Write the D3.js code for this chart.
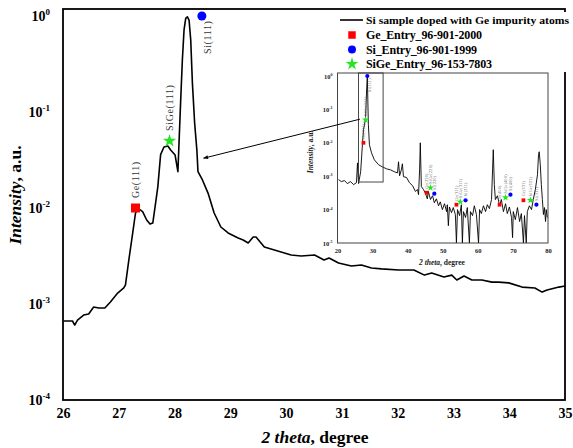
<!DOCTYPE html>
<html><head><meta charset="utf-8">
<script src="https://cdn.jsdelivr.net/npm/d3@7"></script>
<style>
body{margin:0;background:#fff}
svg{display:block;font-family:"Liberation Serif","Times New Roman",serif}
</style>
</head><body>
<svg id="c" width="573" height="448"></svg>
<script>
// ---------- DATA ----------
const mainTheta = [26.01,26.17,26.21,26.26,26.37,26.46,26.55,26.64,26.75,26.85,26.98,27.09,27.12,27.18,27.25,27.30,27.34,27.39,27.43,27.50,27.56,27.61,27.65,27.70,27.75,27.81,27.88,27.93,28.01,28.06,28.08,28.11,28.14,28.17,28.20,28.23,28.26,28.29,28.32,28.36,28.40,28.42,28.50,28.60,28.71,28.83,28.96,29.14,29.23,29.32,29.41,29.46,29.61,29.79,29.91,30.09,30.27,30.51,30.68,30.77,30.94,31.17,31.35,31.53,31.71,32.02,32.29,32.48,32.61,32.83,32.97,33.06,33.19,33.33,33.51,33.69,33.81,33.99,34.23,34.46,34.59,34.68,34.89,35.00];
const mainIntensity = [6.65e-4,6.65e-4,6.04e-4,6.8e-4,7.67e-4,7.87e-4,9.3e-4,9.08e-4,9.08e-4,1.05e-3,1.30e-3,1.47e-3,1.58e-3,2.87e-3,5.5e-3,8.87e-3,9.77e-3,9.53e-3,9.1e-3,7.5e-3,6.8e-3,6.98e-3,0.0102,0.0166,0.036,0.0432,0.0443,0.0402,0.0356,0.0239,0.0475,0.133,0.348,0.715,0.946,0.98,0.908,0.562,0.200,0.0768,0.0402,0.0239,0.0196,0.0143,8.87e-3,6.34e-3,5.5e-3,4.87e-3,4.64e-3,4.32e-3,4.99e-3,4.99e-3,3.92e-3,3.65e-3,3.48e-3,3.24e-3,3.16e-3,3.24e-3,2.87e-3,3.01e-3,2.67e-3,2.49e-3,2.55e-3,2.37e-3,2.32e-3,2.26e-3,2.26e-3,2.0e-3,2.1e-3,1.91e-3,2.0e-3,1.78e-3,1.96e-3,1.78e-3,1.78e-3,1.69e-3,1.69e-3,1.66e-3,1.50e-3,1.47e-3,1.33e-3,1.40e-3,1.50e-3,1.54e-3];

const insetTheta = [20.3,21.1,22.0,22.8,23.7,24.6,25.4,25.7,26.0,26.6,27.1,27.4,27.7,28.0,28.3,28.5,28.8,29.1,29.7,30.5,31.7,32.8,34.0,35.1,36.2,37.1,37.4,37.7,38.2,38.5,38.8,39.7,40.5,41.4,42.2,42.8,43.1,43.4,43.6,43.9,44.5,45.1,45.6,45.9,46.5,47.1,47.6,48.2,48.8,49.3,49.9,50.5,51.1,51.3,51.6,51.9,52.5,53.0,53.6,53.9,54.2,54.8,55.3,55.6,55.9,56.5,57.0,57.6,57.9,58.5,59.0,59.6,60.2,60.5,61.0,61.6,62.2,62.7,63.3,63.9,64.2,64.4,64.7,65.0,65.6,66.2,66.7,67.3,67.9,68.4,69.0,69.6,69.9,70.1,70.7,71.3,71.9,72.4,73.0,73.3,73.8,74.1,74.7,75.3,75.8,76.4,77.0,77.3,77.5,77.8,78.1,78.4,78.7,79.0,79.3,79.5,79.8];
const insetIntensity = [7.9e-4,6.9e-4,7.4e-4,6.0e-4,6.9e-4,5.6e-4,6.4e-4,2.5e-3,6.0e-4,1.36e-3,8.7e-3,0.0245,0.0345,0.056,0.38,1.0,0.035,8.7e-3,5.0e-3,3.1e-3,2.2e-3,1.9e-3,1.66e-3,1.55e-3,1.36e-3,1.26e-3,2.7e-3,1.03e-3,1.55e-3,2.35e-3,9.7e-4,9.1e-4,6.4e-4,5.2e-4,3.5e-4,4.0e-4,2.8e-4,1.55e-3,0.01,4.9e-4,4.0e-4,3.0e-4,2.1e-4,3.5e-4,2.0e-4,2.6e-4,1.6e-4,2.1e-4,1.3e-4,1.7e-4,1.0e-4,1.5e-4,8.7e-5,1.4e-4,3.3e-5,1.2e-4,8.1e-5,1.15e-4,7.1e-5,1.0e-5,1.0e-4,6.6e-5,1.4e-4,1.0e-5,8.7e-5,5.8e-5,1.15e-4,1.0e-5,8.7e-5,6.6e-5,1.3e-4,7.1e-5,1.0e-5,1.0e-4,7.6e-5,1.3e-4,8.7e-5,1.4e-4,1.07e-4,2.0e-4,1.55e-3,6.2e-3,5.6e-4,2.0e-4,2.6e-4,1.3e-4,2.0e-4,8.7e-5,1.5e-4,7.6e-5,1.2e-4,5.8e-5,1.45e-5,8.7e-5,5.0e-5,1.15e-4,4.4e-5,7.6e-5,1.0e-5,6.6e-5,1.0e-5,8.7e-5,1.3e-4,1.0e-4,2.0e-4,4.0e-4,1.1e-3,4.4e-3,5.4e-3,2.2e-3,5.6e-4,2.0e-4,7.1e-5,1.15e-4,4.4e-5,1.0e-4,5.8e-5];

const xTicks = [26,27,28,29,30,31,32,33,34,35];
const yTicks = [1e-4,1e-3,1e-2,1e-1,1];
const insetXTicks = [20,30,40,50,60,70,80];
const insetYTicks = [1e-5,1e-4,1e-3,1e-2,1e-1,1];

// phases
const phaseNames = ["Ge_Entry_96-901-2000","Si_Entry_96-901-1999","SiGe_Entry_96-153-7803"];
const phaseShort = ["Ge","Si","SiGe"];
const phaseColors = ["#ff0000","#0000ff","#22e622"];
const phaseSymbols = [d3.symbolSquare,d3.symbolCircle,d3.symbolStar];
const seriesName = "Si sample doped with Ge impurity atoms";

// main peak markers (Ge, Si, SiGe)
const mainPeakTheta = [27.30,28.49,27.91];
const mainPeakIntensity = [0.01,1.0,0.05];
const mainPeakLabels = ["Ge(111)","Si(111)","SiGe(111)"];

// inset peak markers
const insetHkl = ["(111)","(220)","(311)","(400)","(331)"];
const insetGeTheta = [27.4,45.4,53.9,66.2,73.0];
const insetGeIntensity = [0.01,3.2e-4,1.4e-4,1.4e-4,1.9e-4];
const insetSiTheta = [28.5,47.6,56.5,69.3,76.7];
const insetSiIntensity = [1.0,3.0e-4,1.9e-4,2.8e-4,1.4e-4];
const insetSiGeTheta = [28.0,46.5,55.0,67.9,75.0];
const insetSiGeIntensity = [0.049,4.5e-4,1.7e-4,2.3e-4,1.9e-4];

// zoom box in inset and arrow
const zoomBoxTheta = [26,33];
const zoomBoxIntensity = [6.7e-4];
const arrowFrom = [26.4,0.051];  // inset coords
const arrowTo = [28.52,0.033];   // main coords

// ---------- DRAW ----------
const svg = d3.select("#c");
const x = d3.scaleLinear().domain([26,35]).range([63,565]);
const y = d3.scaleLog().domain([1e-4,Math.pow(10,7/96)]).range([400,9]);

const ix = d3.scaleLinear().domain([20,80]).range([337.5,548]);
const iy = d3.scaleLog().domain([1e-5,Math.pow(10,3/33.4)]).range([243,73]);

function powLabels(g, supSize, dy){
  g.selectAll(".tick text").each(function(d){
    const t = d3.select(this); t.text(null);
    t.append("tspan").text("10");
    t.append("tspan").attr("font-size",supSize).attr("dy",-dy).text(Math.round(Math.log10(d)));
  });
}

// main curve
const line = d3.line().x((d,i)=>x(mainTheta[i])).y((d,i)=>y(mainIntensity[i]));
svg.append("path").datum(mainTheta).attr("d",line).attr("fill","none")
   .attr("stroke","#000").attr("stroke-width",1.6).attr("stroke-linejoin","round");

// frame
svg.append("rect").attr("x",x.range()[0]).attr("y",y.range()[1])
  .attr("width",x.range()[1]-x.range()[0]).attr("height",y.range()[0]-y.range()[1])
  .attr("fill","none").attr("stroke","#000").attr("stroke-width",1.8);

// axes
const gx = svg.append("g").attr("transform",`translate(0,${y.range()[0]})`)
  .call(d3.axisBottom(x).tickValues(xTicks).tickSize(0).tickPadding(8).tickFormat(d3.format("d")));
gx.select(".domain").remove();
gx.attr("font-family",null).attr("font-size",null);
gx.selectAll("text").attr("font-size",14).attr("font-weight","bold").attr("fill","#000");

const gy = svg.append("g").attr("transform",`translate(${x.range()[0]},0)`)
  .call(d3.axisLeft(y).tickValues(yTicks).tickSize(0).tickPadding(13));
gy.select(".domain").remove();
gy.attr("font-family",null).attr("font-size",null);
gy.selectAll("text").attr("font-size",14).attr("font-weight","bold").attr("fill","#000");
powLabels(gy,9,6);

// axis titles
const xt = svg.append("text").attr("x",315).attr("y",443).attr("text-anchor","middle")
  .attr("font-size",17.5).attr("font-weight","bold");
xt.append("tspan").attr("font-style","italic").text("2 theta");
xt.append("tspan").text(", degree");
const yt = svg.append("text").attr("transform","translate(21,195) rotate(-90)").attr("text-anchor","middle")
  .attr("font-size",17.5).attr("font-weight","bold");
yt.append("tspan").attr("font-style","italic").text("Intensity");
yt.append("tspan").text(", a.u.");

// main peak markers & labels
mainPeakTheta.forEach((t,i)=>{
  const px = x(t), py = y(mainPeakIntensity[i]);
  const sizes=[81,64,55];
  svg.append("path").attr("d",d3.symbol().type(phaseSymbols[i]).size(sizes[i])())
    .attr("transform",`translate(${px},${py})`).attr("fill",phaseColors[i]);
  if(phaseShort[i]==="Si"){
    svg.append("text").attr("transform",`translate(${px+9},${py+38}) rotate(-90)`)
      .attr("font-size",10).attr("fill","#333").attr("letter-spacing",0.6).text(mainPeakLabels[i]);
  } else {
    svg.append("text").attr("transform",`translate(${px+3},${py-10}) rotate(-90)`)
      .attr("font-size",10).attr("fill","#333").attr("letter-spacing",0.6).text(mainPeakLabels[i]);
  }
});

// ---------- INSET ----------
const gi = svg.append("g");
const iline = d3.line().x((d,i)=>ix(insetTheta[i])).y((d,i)=>iy(insetIntensity[i]));
gi.append("path").datum(insetTheta).attr("d",iline).attr("fill","none")
  .attr("stroke","#000").attr("stroke-width",0.9);
gi.append("rect").attr("x",ix.range()[0]).attr("y",iy.range()[1])
  .attr("width",ix.range()[1]-ix.range()[0]).attr("height",iy.range()[0]-iy.range()[1])
  .attr("fill","none").attr("stroke","#444").attr("stroke-width",1);
// zoom box
gi.append("rect").attr("x",ix(zoomBoxTheta[0])).attr("y",iy.range()[1])
  .attr("width",ix(zoomBoxTheta[1])-ix(zoomBoxTheta[0])).attr("height",iy(zoomBoxIntensity[0])-iy.range()[1])
  .attr("fill","none").attr("stroke","#333").attr("stroke-width",0.9);

const gix = gi.append("g").attr("transform",`translate(0,${iy.range()[0]})`)
  .call(d3.axisBottom(ix).tickValues(insetXTicks).tickSize(0).tickPadding(5));
gix.select(".domain").remove();
gix.attr("font-family",null).attr("font-size",null);
gix.selectAll("text").attr("font-size",6.5).attr("font-weight","bold").attr("fill","#222");
const giy = gi.append("g").attr("transform",`translate(${ix.range()[0]},0)`)
  .call(d3.axisLeft(iy).tickValues(insetYTicks).tickSize(0).tickPadding(5));
giy.select(".domain").remove();
giy.attr("font-family",null).attr("font-size",null);
giy.selectAll("text").attr("font-size",6.5).attr("font-weight","bold").attr("fill","#222");
powLabels(giy,4,2.5);

const ixt = gi.append("text").attr("x",442).attr("y",265).attr("text-anchor","middle")
  .attr("font-size",7.5).attr("font-weight","bold").attr("fill","#222");
ixt.append("tspan").attr("font-style","italic").text("2 theta");
ixt.append("tspan").text(", degree");
const iyt = gi.append("text").attr("transform","translate(313,152) rotate(-90)").attr("text-anchor","middle")
  .attr("font-size",7.5).attr("font-weight","bold").attr("fill","#222");
iyt.append("tspan").attr("font-style","italic").text("Intensity");
iyt.append("tspan").text(", a.u.");

const insetSets = [[insetGeTheta,insetGeIntensity],[insetSiTheta,insetSiIntensity],[insetSiGeTheta,insetSiGeIntensity]];
insetSets.forEach((s,k)=>{
  s[0].forEach((t,i)=>{
    const px=ix(t), py=iy(s[1][i]);
    gi.append("path").attr("d",d3.symbol().type(phaseSymbols[k]).size(k===2?16:14)())
      .attr("transform",`translate(${px},${py})`).attr("fill",phaseColors[k]);
    const lab = phaseShort[k]+insetHkl[i];
    if(phaseShort[k]==="Si" && i===0){
      gi.append("text").attr("transform",`translate(${px+3.5},${py+16}) rotate(-90)`)
        .attr("font-size",4).attr("fill","#555").attr("letter-spacing",0.3).text(lab);
    } else {
      gi.append("text").attr("transform",`translate(${px+1.5},${py-4}) rotate(-90)`)
        .attr("font-size",4).attr("fill","#555").attr("letter-spacing",0.3).text(lab);
    }
  });
});

// arrow
svg.append("defs").append("marker").attr("id","ah").attr("viewBox","0 0 10 10")
  .attr("refX",9).attr("refY",5).attr("markerWidth",7).attr("markerHeight",5).attr("orient","auto")
  .append("path").attr("d","M0,1L10,5L0,9Z").attr("fill","#000");
svg.append("line").attr("x1",ix(arrowFrom[0])).attr("y1",iy(arrowFrom[1]))
  .attr("x2",x(arrowTo[0])).attr("y2",y(arrowTo[1]))
  .attr("stroke","#000").attr("stroke-width",1).attr("marker-end","url(#ah)");

// ---------- LEGEND ----------
const lg = svg.append("g");
lg.append("rect").attr("x",336).attr("y",12).attr("width",237).attr("height",60).attr("fill","#fff");
lg.append("line").attr("x1",340).attr("x2",363).attr("y1",20).attr("y2",20).attr("stroke","#000").attr("stroke-width",1.6);
lg.append("text").attr("x",366).attr("y",24).attr("font-size",11.2).attr("font-weight","bold")
  .attr("textLength",203).attr("lengthAdjust","spacingAndGlyphs").text(seriesName);
const order=[0,1,2];
const legendWidths=[116,111,126];
order.forEach((k,j)=>{
  const yy = 35 + j*14.5;
  lg.append("path").attr("d",d3.symbol().type(phaseSymbols[k]).size(k===2?50:(k===0?56:50))())
    .attr("transform",`translate(352,${yy})`).attr("fill",phaseColors[k]);
  lg.append("text").attr("x",366).attr("y",yy+4).attr("font-size",12).attr("font-weight","bold")
    .attr("textLength",legendWidths[j]).attr("lengthAdjust","spacing").text(phaseNames[k]);
});
</script>
</body></html>
